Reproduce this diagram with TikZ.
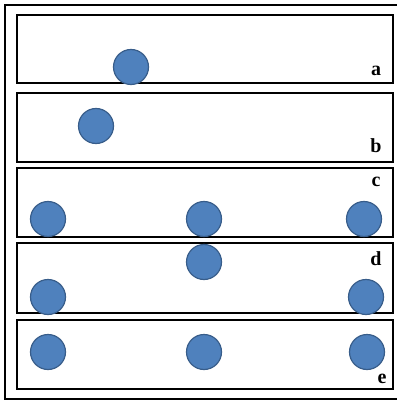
\documentclass[tikz,border=0pt]{standalone}
\usepackage{fontspec}
\setmainfont{Liberation Serif}
\definecolor{ballfill}{HTML}{4F81BD}
\definecolor{balledge}{HTML}{385D8A}
\begin{document}
\begin{tikzpicture}[x=1pt,y=-1pt,
  panel/.style={draw=black,line width=2pt},
  ball/.style={circle,fill=ballfill,draw=balledge,line width=1.2pt,minimum size=35pt,inner sep=0pt},
  lbl/.style={font=\bfseries\fontsize{20}{20}\selectfont,inner sep=0pt}]
\useasboundingbox (0,0) rectangle (396,401);
\draw[panel] (5,5) rectangle (398,399);
\draw[panel] (17,15) rectangle (393,83);
\draw[panel] (17,93) rectangle (393,162);
\draw[panel] (17,168) rectangle (393,237);
\draw[panel] (17,243) rectangle (393,313);
\draw[panel] (17,320) rectangle (393,389);
% circles
\node[ball] (a1) at (131,67) {};
\node[ball] (b1) at (96,126) {};
\node[ball] (c1) at (48,219) {};
\node[ball] (c2) at (204,219) {};
\node[ball] (c3) at (364,219) {};
\node[ball] (d2) at (204,262) {};
\node[ball] (d1) at (48,297) {};
\node[ball] (d3) at (366,297) {};
\node[ball] (e1) at (48,352) {};
\node[ball] (e2) at (204,352) {};
\node[ball] (e3) at (367,352) {};
% labels
\node[lbl] (la) at (376,71) {a};
\node[lbl] (lb) at (376,146) {b};
\node[lbl] (lc) at (376,182) {c};
\node[lbl] (ld) at (376,259) {d};
\node[lbl] (le) at (382,379) {e};
\end{tikzpicture}
\end{document}
